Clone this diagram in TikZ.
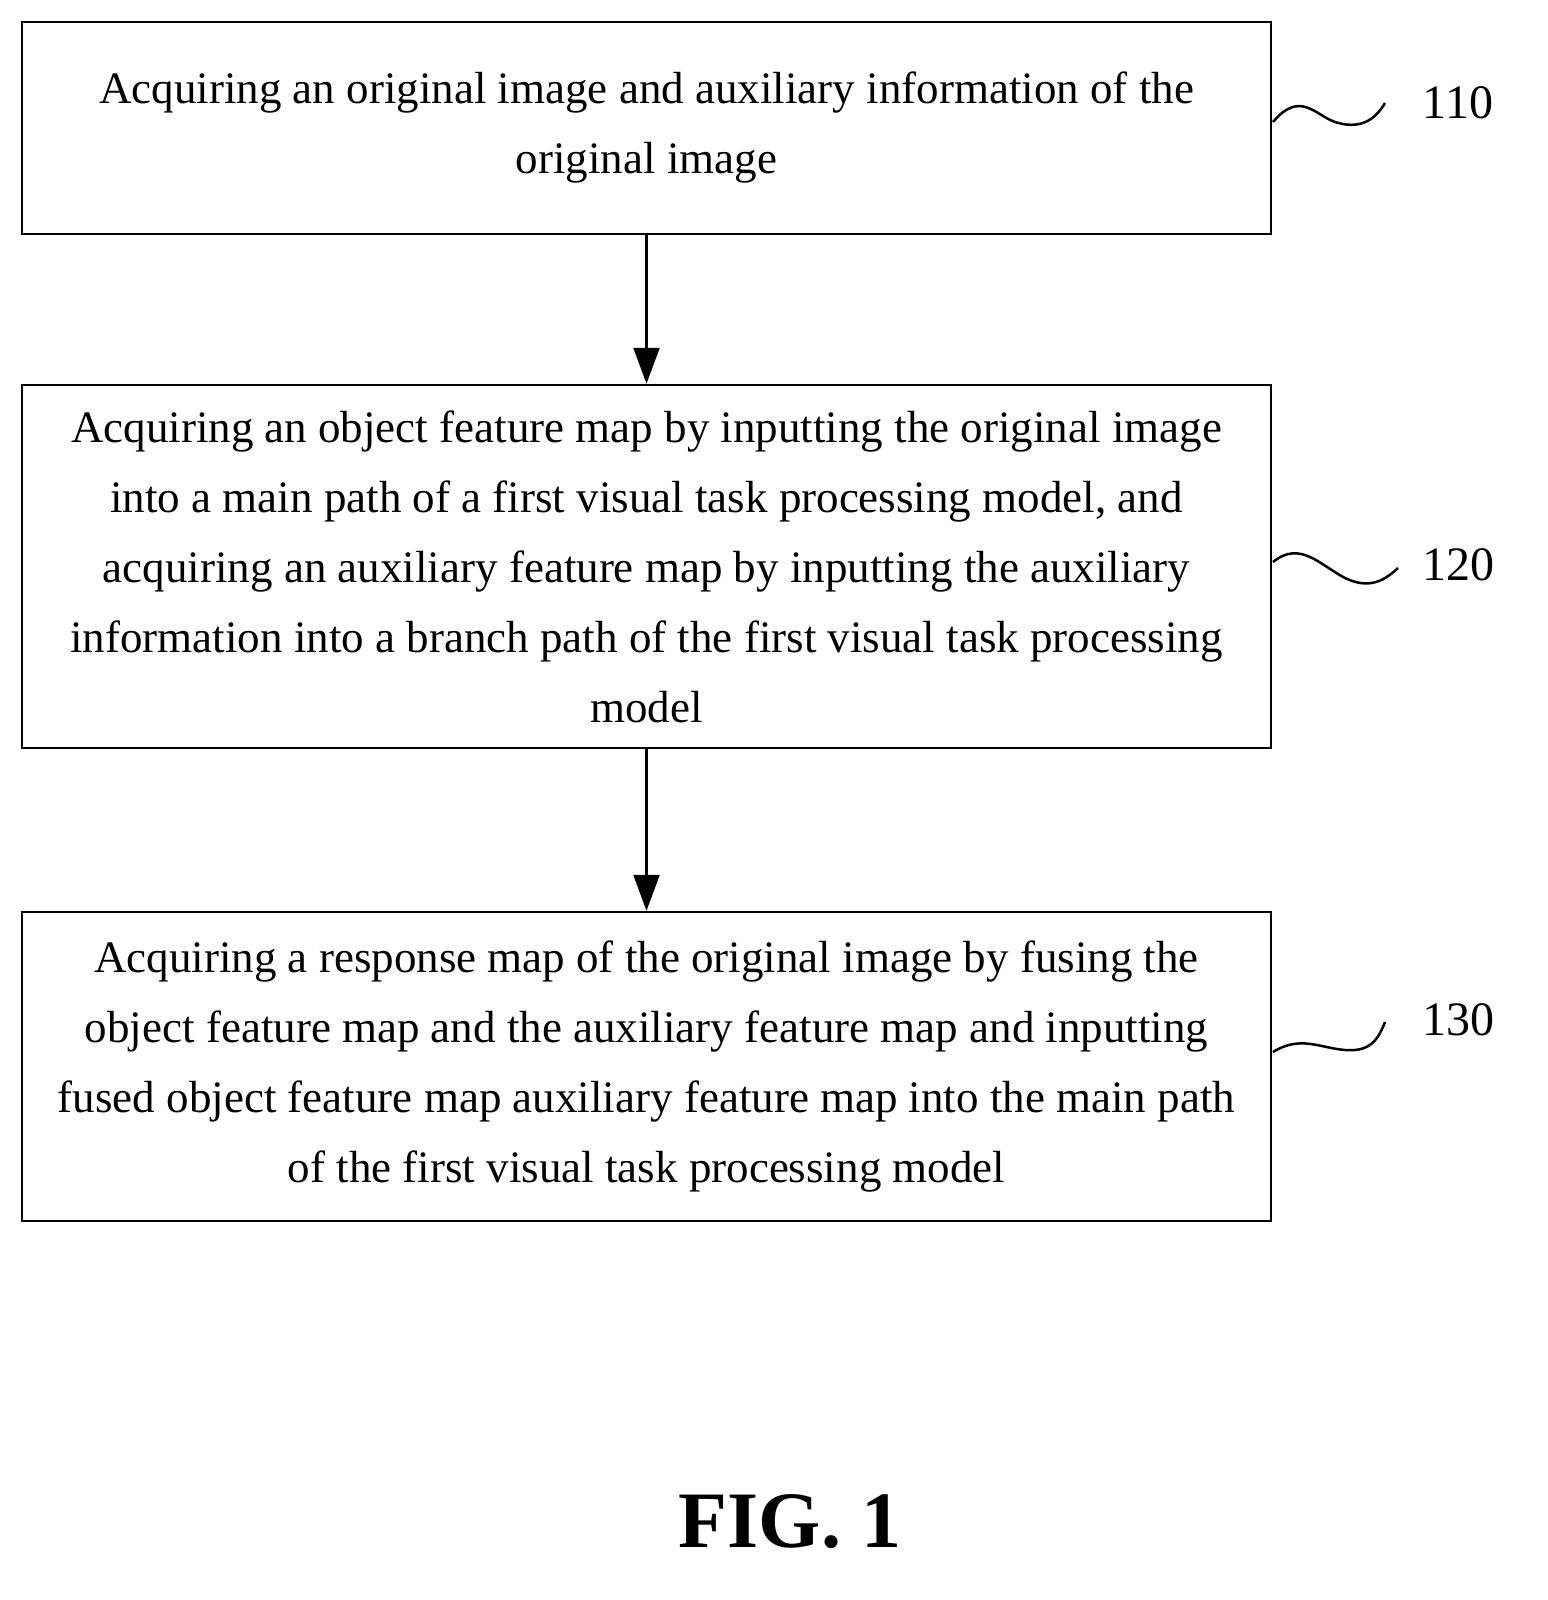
\documentclass[tikz,border=0pt]{standalone}
\usepackage{fontspec}
\setmainfont{Liberation Serif}
\usetikzlibrary{arrows.meta}
\begin{document}
\begin{tikzpicture}[x=1pt,y=-1pt,
  box/.style={draw,line width=2.5pt,minimum width=1249pt,align=center,inner sep=0pt,font=\fontsize{45}{70}\selectfont},
  arr/.style={line width=2.5pt,-{Triangle[length=36pt,width=26pt]}},
  lab/.style={font=\fontsize{48}{50}\selectfont},
  sq/.style={line width=2.5pt}]
\node[box,minimum height=212pt] (b1) at (646.5,128) {Acquiring an original image and auxiliary information of the\\original image};
\node[box,minimum height=363pt] (b2) at (646.5,566.5) {Acquiring an object feature map by inputting the original image\\into a main path of a first visual task processing model, and\\acquiring an auxiliary feature map by inputting the auxiliary\\information into a branch path of the first visual task processing\\model};
\node[box,minimum height=309pt] (b3) at (646.5,1066.5) {Acquiring a response map of the original image by fusing the\\object feature map and the auxiliary feature map and inputting\\fused object feature map auxiliary feature map into the main path\\of the first visual task processing model};
\draw[arr] (b1.south) -- (b2.north);
\draw[arr] (b2.south) -- (b3.north);
\coordinate (s1) at (1273,122);
\coordinate (s2) at (1273,562);
\coordinate (s3) at (1273,1052);
\node[lab] (l1) at (1458,103) {110};
\node[lab] (l2) at (1458,565) {120};
\node[lab] (l3) at (1458,1020) {130};
\draw[sq] (s1) .. controls (1300,90) and (1315,115) .. (1335,122) .. controls (1360,130) and (1375,120) .. (1385,103);
\draw[sq] (s2) .. controls (1300,540) and (1320,565) .. (1345,578) .. controls (1370,590) and (1385,580) .. (1398,568);
\draw[sq] (s3) .. controls (1300,1035) and (1320,1048) .. (1345,1050) .. controls (1370,1052) and (1378,1040) .. (1385,1022);
\node[font=\bfseries\fontsize{80}{80}\selectfont] (fig) at (790,1522) {FIG. 1};
\pgfresetboundingbox
\useasboundingbox (0,0) rectangle (1547,1600);
\end{tikzpicture}
\end{document}
